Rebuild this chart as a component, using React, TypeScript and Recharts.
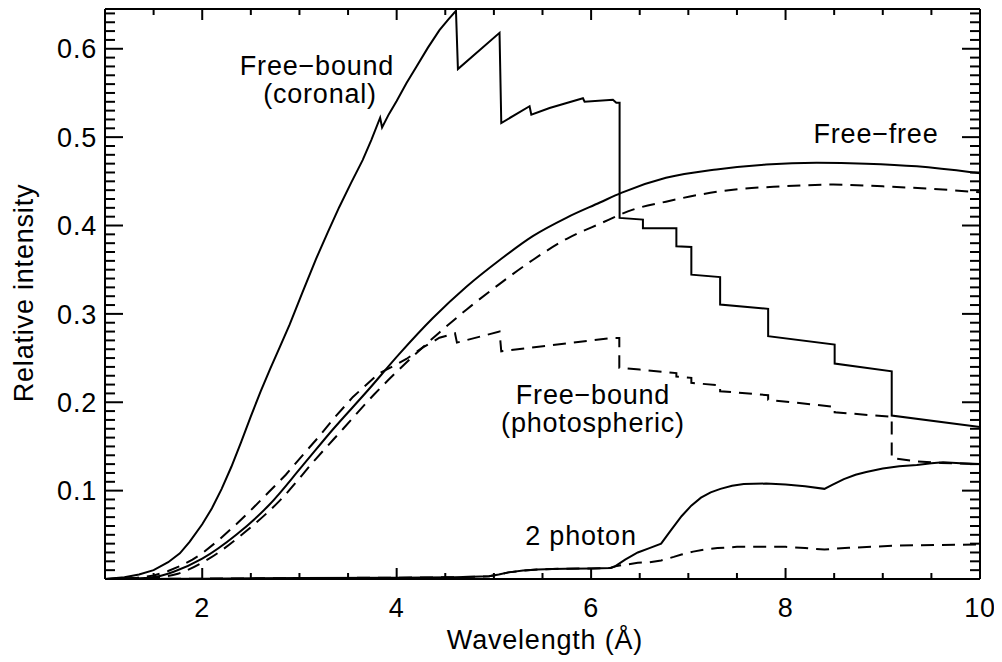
import React from "react";
import { LineChart, Line, XAxis, YAxis } from "recharts";

const FONT = "'Liberation Sans', Arial, Helvetica, sans-serif";
const FS = 27;

// free-bound, coronal abundances (solid)
const fbCoronalX = [1.0, 1.2, 1.35, 1.5, 1.65, 1.77, 1.87, 2.0, 2.1, 2.2, 2.3, 2.4, 2.5, 2.6, 2.7, 2.8, 2.9, 3.03, 3.17, 3.29, 3.41, 3.53, 3.65, 3.74, 3.83, 3.85, 3.92, 4.0, 4.1, 4.2, 4.32, 4.44, 4.53, 4.61, 4.63, 5.058, 5.076, 5.367, 5.385, 5.573, 5.916, 5.933, 6.224, 6.259, 6.293, 6.293, 6.533, 6.533, 6.877, 6.877, 7.031, 7.031, 7.327, 7.327, 7.821, 7.821, 8.505, 8.505, 9.092, 9.092, 10.0];
const fbCoronalY = [0, 0.002, 0.005, 0.01, 0.019, 0.029, 0.042, 0.062, 0.08, 0.102, 0.127, 0.155, 0.184, 0.212, 0.238, 0.263, 0.288, 0.324, 0.362, 0.392, 0.421, 0.448, 0.474, 0.497, 0.522, 0.511, 0.526, 0.541, 0.561, 0.579, 0.601, 0.621, 0.633, 0.643, 0.577, 0.618, 0.516, 0.535, 0.5255, 0.533, 0.544, 0.54, 0.5424, 0.539, 0.539, 0.4086, 0.4067, 0.397, 0.397, 0.3765, 0.3758, 0.3444, 0.3416, 0.3105, 0.3057, 0.2747, 0.2653, 0.2438, 0.235, 0.185, 0.172];

// free-bound, photospheric abundances (dashed)
const fbPhotoX = [1.0, 1.3, 1.5, 1.65, 1.77, 1.9, 2.0, 2.18, 2.35, 2.52, 2.69, 2.86, 3.04, 3.2, 3.34, 3.55, 3.81, 3.95, 4.1, 4.27, 4.44, 4.6, 4.62, 5.058, 5.076, 6.22, 6.29, 6.29, 6.5, 6.877, 6.877, 7.031, 7.031, 7.327, 7.327, 7.821, 7.821, 8.505, 8.505, 9.092, 9.092, 9.33, 9.6, 10.0];
const fbPhotoY = [0, 0.001, 0.004, 0.009, 0.0145, 0.022, 0.029, 0.045, 0.062, 0.08, 0.099, 0.118, 0.141, 0.161, 0.18, 0.206, 0.232, 0.24, 0.249, 0.262, 0.273, 0.278, 0.2675, 0.28, 0.2577, 0.2728, 0.2728, 0.239, 0.237, 0.233, 0.229, 0.2276, 0.222, 0.219, 0.2125, 0.208, 0.2028, 0.1948, 0.1887, 0.1835, 0.137, 0.1333, 0.1314, 0.13];

// free-free, coronal (solid)
const ffCoronalX = [1.0, 1.3, 1.5, 1.7, 2.0, 2.35, 2.69, 3.03, 3.35, 3.7, 4.03, 4.37, 4.72, 5.06, 5.4, 5.75, 6.09, 6.31, 6.77, 7.29, 7.8, 8.32, 8.83, 9.35, 9.93, 10.0];
const ffCoronalY = [0, 0.0005, 0.002, 0.008, 0.023, 0.05, 0.084, 0.128, 0.17, 0.213, 0.255, 0.295, 0.331, 0.361, 0.388, 0.409, 0.426, 0.437, 0.454, 0.4635, 0.469, 0.471, 0.47, 0.467, 0.46, 0.459];

// free-free, photospheric (dashed)
const ffPhotoX = [1.0, 1.5, 1.75, 2.07, 2.45, 2.8, 3.17, 3.45, 3.77, 4.1, 4.44, 4.72, 5.06, 5.4, 5.75, 6.09, 6.43, 6.77, 7.12, 7.46, 7.97, 8.49, 9.0, 9.52, 10.0];
const ffPhotoY = [0, 0.0015, 0.006, 0.023, 0.054, 0.089, 0.136, 0.17, 0.209, 0.245, 0.279, 0.305, 0.334, 0.361, 0.385, 0.402, 0.418, 0.427, 0.435, 0.4406, 0.4443, 0.4463, 0.4443, 0.4414, 0.4375];

// two-photon, coronal (solid)
const tpCoronalX = [1.0, 2.0, 3.0, 4.0, 4.6, 4.95, 5.05, 5.15, 5.3, 5.45, 5.6, 5.75, 6.0, 6.2, 6.25, 6.35, 6.48, 6.6, 6.72, 6.82, 6.93, 7.03, 7.13, 7.23, 7.33, 7.45, 7.57, 7.8, 8.0, 8.2, 8.4, 8.48, 8.6, 8.72, 8.83, 9.0, 9.17, 9.35, 9.5, 9.62, 9.8, 10.0];
const tpCoronalY = [0, 0.0004, 0.001, 0.0015, 0.002, 0.003, 0.005, 0.0075, 0.0095, 0.0107, 0.0113, 0.0117, 0.012, 0.0125, 0.0145, 0.022, 0.03, 0.035, 0.04, 0.055, 0.071, 0.083, 0.092, 0.098, 0.102, 0.1055, 0.1075, 0.108, 0.107, 0.105, 0.102, 0.1065, 0.113, 0.118, 0.121, 0.125, 0.1275, 0.129, 0.131, 0.132, 0.131, 0.13];

// two-photon, photospheric (dashed)
const tpPhotoX = [1.0, 2.0, 3.0, 4.0, 4.6, 4.95, 5.05, 5.15, 5.3, 5.45, 5.6, 5.75, 6.0, 6.2, 6.25, 6.48, 6.6, 6.72, 6.85, 6.93, 7.05, 7.17, 7.3, 7.5, 8.0, 8.2, 8.4, 8.65, 9.17, 10.0];
const tpPhotoY = [0, 0.0004, 0.001, 0.0015, 0.002, 0.003, 0.005, 0.0075, 0.0095, 0.0107, 0.0113, 0.0117, 0.012, 0.0125, 0.0145, 0.0183, 0.019, 0.021, 0.025, 0.0277, 0.031, 0.0334, 0.035, 0.0364, 0.0364, 0.035, 0.0334, 0.0353, 0.0379, 0.039];

const xLabels = [2, 4, 6, 8, 10];
const yLabels = [0.1, 0.2, 0.3, 0.4, 0.5, 0.6];
const xTicks = Array.from({ length: 18 }, (_, i) => 1.5 + i * 0.5);
const yTicks = Array.from({ length: 64 }, (_, i) => (i + 1) / 100);

const pts = (xs: number[], ys: number[]) => xs.map((x, i) => ({ x, y: ys[i] }));

const isMajorX = (v: number) => xLabels.some((l) => Math.abs(l - v) < 1e-6);
const isMajorY = (v: number) => yLabels.some((l) => Math.abs(l - v) < 1e-6);

const BottomTick = (p: any) => {
  const v = p.payload.value;
  const major = isMajorX(v);
  return (
    <g>
      <line x1={p.x} x2={p.x} y1={p.y} y2={p.y - (major ? 11 : 6)} stroke="#000" strokeWidth={2} />
      {major && (
        <text x={p.x} y={p.y + 38} textAnchor="middle" fontFamily={FONT} fontSize={FS} letterSpacing={0.8} fill="#000">
          {v}
        </text>
      )}
    </g>
  );
};

const TopTick = (p: any) => {
  const major = isMajorX(p.payload.value);
  return <line x1={p.x} x2={p.x} y1={p.y} y2={p.y + (major ? 11 : 6)} stroke="#000" strokeWidth={2} />;
};

const LeftTick = (p: any) => {
  const v = p.payload.value;
  const major = isMajorY(v);
  return (
    <g>
      <line x1={p.x} x2={p.x + (major ? 18 : 10)} y1={p.y} y2={p.y} stroke="#000" strokeWidth={2} />
      {major && (
        <text x={p.x - 8} y={p.y} dy="0.36em" textAnchor="end" fontFamily={FONT} fontSize={FS} letterSpacing={0.8} fill="#000">
          {v.toFixed(1)}
        </text>
      )}
    </g>
  );
};

const RightTick = (p: any) => {
  const major = isMajorY(p.payload.value);
  return <line x1={p.x} x2={p.x - (major ? 18 : 10)} y1={p.y} y2={p.y} stroke="#000" strokeWidth={2} />;
};

const axisLine = { stroke: "#000", strokeWidth: 2 };

// smooth curves get monotone interpolation, the ones with edges stay linear
const series = [
  { key: "fbc", data: pts(fbCoronalX, fbCoronalY), dash: undefined, curve: "linear" },
  { key: "fbp", data: pts(fbPhotoX, fbPhotoY), dash: "13 8", curve: "linear" },
  { key: "ffc", data: pts(ffCoronalX, ffCoronalY), dash: undefined, curve: "monotone" },
  { key: "ffp", data: pts(ffPhotoX, ffPhotoY), dash: "13 8", curve: "monotone" },
  { key: "tpc", data: pts(tpCoronalX, tpCoronalY), dash: undefined, curve: "linear" },
  { key: "tpp", data: pts(tpPhotoX, tpPhotoY), dash: "13 8", curve: "linear" },
];

const txt = { fontFamily: FONT, fontSize: FS, letterSpacing: 0.8, fill: "#000", textAnchor: "middle" as const };

export default function App() {
  return (
    <div style={{ position: "relative", width: 994, height: 654 }}>
      <LineChart width={994} height={654} margin={{ top: 0, right: 0, bottom: 0, left: 0 }}>
        <XAxis
          xAxisId="b"
          dataKey="x"
          type="number"
          domain={[1, 10]}
          allowDataOverflow
          ticks={xTicks}
          interval={0}
          tickSize={0}
          tickMargin={0}
          tickLine={false}
          axisLine={axisLine}
          height={83}
          tick={BottomTick}
        />
        <XAxis
          xAxisId="t"
          orientation="top"
          dataKey="x"
          type="number"
          domain={[1, 10]}
          allowDataOverflow
          ticks={xTicks}
          interval={0}
          tickSize={0}
          tickMargin={0}
          tickLine={false}
          axisLine={axisLine}
          height={1}
          tick={TopTick}
        />
        <YAxis
          yAxisId="l"
          type="number"
          domain={[0, 0.645]}
          allowDataOverflow
          ticks={yTicks}
          interval={0}
          tickSize={0}
          tickMargin={0}
          tickLine={false}
          axisLine={axisLine}
          width={97}
          tick={LeftTick}
        />
        <YAxis
          yAxisId="r"
          orientation="right"
          type="number"
          domain={[0, 0.645]}
          allowDataOverflow
          ticks={yTicks}
          interval={0}
          tickSize={0}
          tickMargin={0}
          tickLine={false}
          axisLine={axisLine}
          width={22}
          tick={RightTick}
        />
        {series.map((s) => (
          <Line
            key={s.key}
            xAxisId="b"
            yAxisId="l"
            data={s.data}
            dataKey="y"
            type={s.curve as any}
            stroke="#000"
            strokeWidth={2}
            strokeDasharray={s.dash}
            dot={false}
            activeDot={false}
            isAnimationActive={false}
          />
        ))}
      </LineChart>
      <svg width={994} height={654} style={{ position: "absolute", left: 0, top: 0, pointerEvents: "none" }}>
        <text {...txt} x={309} y={67}>Free−bound</text>
        <text {...txt} x={312} y={95}>(coronal)</text>
        <text {...txt} x={868} y={135}>Free−free</text>
        <text {...txt} x={585} y={396}>Free−bound</text>
        <text {...txt} x={585} y={424}>(photospheric)</text>
        <text {...txt} x={573} y={537}>2 photon</text>
        <text {...txt} x={25} y={285} transform="rotate(-90, 25, 285)">Relative intensity</text>
        <text {...txt} x={537} y={641}>Wavelength (Å)</text>
      </svg>
    </div>
  );
}
